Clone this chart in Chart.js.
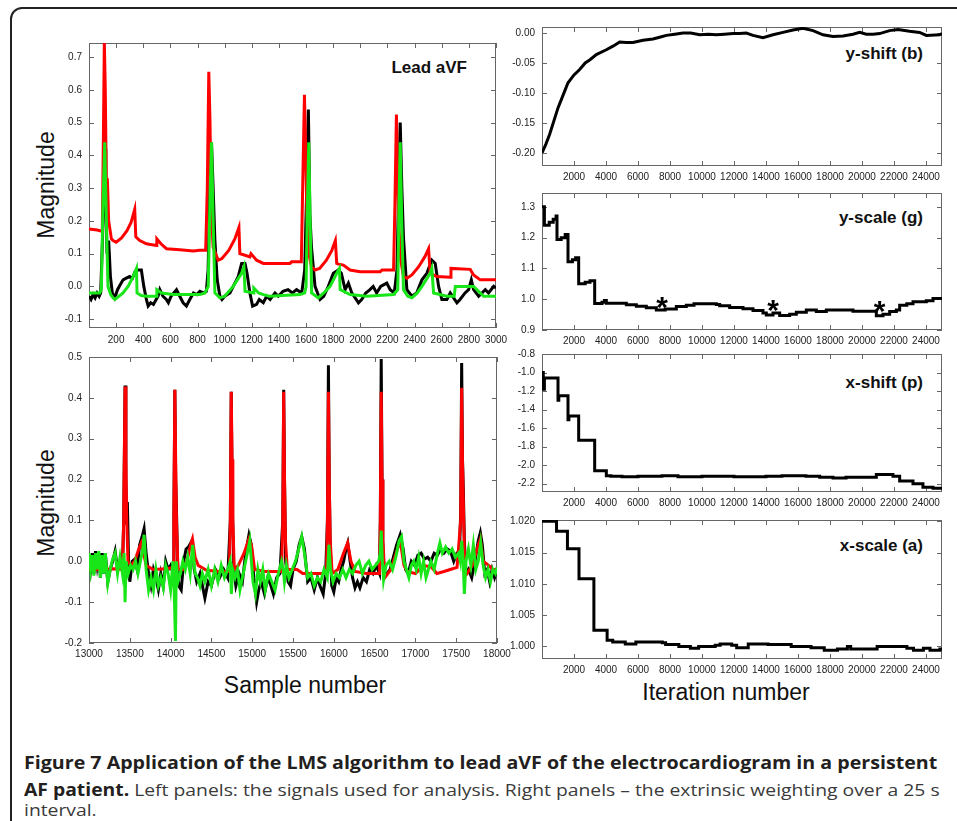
<!DOCTYPE html>
<html>
<head>
<meta charset="utf-8">
<script src="https://cdn.jsdelivr.net/npm/chart.js@4.4.0/dist/chart.umd.min.js"></script>
<style>
body{margin:0;background:#fff;font-family:"Liberation Sans",Arial,sans-serif;}
#page{position:relative;width:957px;height:821px;overflow:hidden;background:#fff;}
#box{position:absolute;left:10px;top:7px;width:1000px;height:900px;border:2px solid #222;border-radius:12px;}
.panel{position:absolute;}
.lbl{position:absolute;white-space:nowrap;line-height:1;color:#111;}
.tag{font-weight:bold;font-size:17px;transform:translate(-100%,-50%);}
.axt{font-size:23px;transform:translate(-50%,-50%);}
.rot{transform:translate(-50%,-50%) rotate(-90deg);}
.cap{position:absolute;left:24px;white-space:nowrap;font-family:"Open Sans",sans-serif;font-size:17px;line-height:17px;transform-origin:0 50%;color:#3a3a3a;}
.cap b{color:#231f20;}
</style>
</head>
<body>
<div id="page">
  <div id="box"></div>
  <div class="lbl tag" style="left:467px;top:67px">Lead aVF</div>
  <div class="lbl tag" style="left:923px;top:53px">y-shift (b)</div>
  <div class="lbl tag" style="left:923px;top:217px">y-scale (g)</div>
  <div class="lbl tag" style="left:923px;top:382px">x-shift (p)</div>
  <div class="lbl tag" style="left:923px;top:545px">x-scale (a)</div>
  <div class="lbl axt rot" style="left:46px;top:185px">Magnitude</div>
  <div class="lbl axt rot" style="left:46px;top:503px">Magnitude</div>
  <div class="lbl axt" style="left:305px;top:685px">Sample number</div>
  <div class="lbl axt" style="left:726px;top:692px">Iteration number</div>
  <div class="cap" id="cap1" style="top:754px"><b>Figure 7 Application of the LMS algorithm to lead aVF of the electrocardiogram in a persistent</b></div>
  <div class="cap" id="cap2" style="top:781px"><b>AF patient.</b> Left panels: the signals used for analysis. Right panels – the extrinsic weighting over a 25 s</div>
  <div class="cap" id="cap3" style="top:801px">interval.</div>
</div>
<script>
// ---- data ----
// lead aVF, samples 0-3000 (black = signal, red / green = the two fits)
let topBlack = [[0,-0.03],[15,-0.04],[30,-0.025],[45,-0.035],[60,-0.02],[75,-0.03],[86,-0.02],[100,0.15],[112,0.36],[118,0.42],[124,0.25],[133,0.1],[145,0.14],[158,0.03],[172,-0.02],[190,-0.035],[210,-0.01],[230,0.005],[251,0.02],[275,0.025],[300,0.03],[320,0.025],[340,0.045],[362,0.05],[386,0.05],[404,0.0],[423,-0.04],[436,-0.06],[455,-0.05],[475,-0.055],[495,-0.04],[509,-0.03],[522,-0.01],[545,-0.03],[570,-0.04],[585,-0.05],[605,-0.03],[625,-0.02],[645,-0.01],[669,-0.03],[694,-0.05],[718,-0.06],[743,-0.04],[770,-0.02],[795,-0.025],[817,-0.015],[845,-0.02],[865,-0.015],[878,0.05],[890,0.3],[903,0.44],[915,0.3],[928,0.14],[945,0.02],[965,-0.03],[980,-0.04],[1000,-0.03],[1039,-0.02],[1063,0.0],[1100,0.03],[1125,0.07],[1150,0.07],[1165,0.04],[1186,-0.02],[1206,-0.06],[1235,-0.055],[1255,-0.04],[1285,-0.05],[1309,-0.03],[1335,-0.04],[1371,-0.02],[1395,-0.03],[1430,-0.015],[1467,-0.01],[1500,-0.02],[1530,-0.01],[1568,-0.02],[1590,0.05],[1605,0.3],[1617,0.54],[1628,0.22],[1640,0.12],[1666,0.0],[1703,-0.04],[1730,-0.03],[1764,0.0],[1801,0.04],[1838,0.05],[1860,0.04],[1888,-0.01],[1912,0.01],[1937,-0.02],[1986,-0.05],[2010,-0.04],[2040,-0.02],[2071,-0.01],[2095,0.0],[2120,-0.02],[2150,0.0],[2195,0.01],[2220,-0.01],[2250,-0.02],[2270,0.05],[2283,0.3],[2294,0.5],[2306,0.3],[2318,0.15],[2343,-0.01],[2380,-0.03],[2415,-0.02],[2454,0.02],[2490,0.04],[2527,0.08],[2552,0.07],[2577,0.0],[2601,-0.04],[2638,-0.04],[2663,-0.02],[2712,-0.05],[2735,-0.04],[2772,-0.02],[2798,-0.01],[2818,0.02],[2835,-0.01],[2872,-0.03],[2921,-0.01],[2945,-0.02],[2983,0.0],[3000,-0.005]];
let topRed = [[0,0.175],[60,0.172],[98,0.168],[106,0.45],[113,0.745],[120,0.6],[128,0.3],[135,0.33],[145,0.2],[165,0.145],[177,0.14],[200,0.135],[240,0.148],[280,0.17],[310,0.195],[337,0.235],[345,0.151],[374,0.14],[423,0.13],[497,0.125],[500,0.145],[530,0.13],[571,0.115],[669,0.112],[768,0.108],[817,0.11],[860,0.11],[872,0.3],[883,0.655],[892,0.5],[900,0.25],[915,0.12],[952,0.08],[980,0.085],[1030,0.11],[1075,0.145],[1105,0.18],[1112,0.1],[1150,0.095],[1186,0.09],[1194,0.1],[1235,0.08],[1285,0.07],[1481,0.07],[1494,0.075],[1565,0.075],[1575,0.3],[1588,0.585],[1598,0.4],[1606,0.22],[1620,0.1],[1640,0.06],[1666,0.05],[1700,0.055],[1750,0.08],[1790,0.11],[1816,0.14],[1826,0.07],[1840,0.068],[1875,0.065],[1924,0.05],[1998,0.045],[2146,0.045],[2160,0.05],[2245,0.05],[2255,0.25],[2266,0.525],[2275,0.35],[2283,0.19],[2298,0.08],[2318,0.03],[2343,0.025],[2380,0.035],[2430,0.06],[2475,0.09],[2503,0.115],[2515,0.04],[2564,0.03],[2663,0.028],[2668,0.055],[2810,0.052],[2835,0.035],[2884,0.02],[3000,0.02]];
let topGreen = [[0,-0.02],[79,-0.02],[91,-0.01],[103,0.25],[116,0.44],[128,0.2],[140,0.0],[160,-0.025],[177,-0.035],[190,-0.04],[220,-0.03],[251,-0.02],[288,0.0],[325,0.03],[350,0.055],[354,-0.02],[385,-0.028],[423,-0.03],[497,-0.03],[500,-0.01],[534,-0.02],[620,-0.025],[817,-0.025],[854,-0.02],[879,0.0],[891,0.25],[903,0.44],[915,0.2],[928,-0.02],[965,-0.035],[1000,-0.03],[1063,0.0],[1125,0.04],[1142,0.06],[1150,-0.015],[1211,-0.02],[1215,-0.005],[1250,-0.02],[1285,-0.025],[1330,-0.03],[1555,-0.025],[1590,-0.02],[1600,0.0],[1610,0.25],[1620,0.44],[1630,0.2],[1641,-0.02],[1690,-0.035],[1730,-0.02],[1777,0.0],[1826,0.04],[1846,0.055],[1851,-0.01],[1924,-0.025],[2048,-0.03],[2245,-0.025],[2276,-0.01],[2285,0.25],[2294,0.44],[2305,0.2],[2318,-0.01],[2350,-0.03],[2380,-0.035],[2420,-0.02],[2454,0.0],[2515,0.04],[2527,0.055],[2540,-0.02],[2638,-0.03],[2692,-0.03],[2700,0.0],[2835,0.0],[2909,-0.03],[3000,-0.03]];

// lead aVF, samples 13000-18000
let lowBlack = [[13000,0.01],[13020,-0.02],[13040,0.02],[13060,-0.03],[13080,0.025],[13100,-0.01],[13120,0.02],[13140,-0.04],[13160,0.02],[13180,-0.03],[13200,0.02],[13230,-0.05],[13260,-0.02],[13290,0.0],[13320,0.025],[13350,-0.02],[13380,0.0],[13410,-0.02],[13425,0.1],[13442,0.43],[13452,0.2],[13462,0.09],[13470,0.145],[13485,0.0],[13500,-0.05],[13530,0.0],[13560,0.005],[13590,-0.02],[13620,0.04],[13650,0.06],[13675,0.08],[13700,0.02],[13730,-0.03],[13760,-0.06],[13790,-0.02],[13820,-0.04],[13850,-0.07],[13880,-0.03],[13910,-0.06],[13940,0.0],[13970,-0.02],[14000,-0.01],[14030,-0.03],[14040,0.1],[14052,0.42],[14062,0.2],[14070,0.145],[14085,0.0],[14100,-0.06],[14130,-0.07],[14160,0.0],[14190,0.03],[14220,0.035],[14260,0.05],[14290,-0.02],[14320,-0.05],[14360,-0.03],[14390,-0.06],[14420,-0.09],[14460,-0.05],[14500,-0.06],[14550,-0.02],[14600,-0.04],[14650,-0.02],[14700,-0.04],[14732,0.1],[14743,0.415],[14753,0.2],[14760,0.11],[14775,-0.02],[14800,-0.06],[14840,-0.03],[14880,-0.05],[14920,0.02],[14960,0.065],[14990,0.04],[15020,-0.04],[15054,-0.1],[15080,-0.07],[15110,-0.05],[15150,-0.08],[15190,-0.04],[15230,-0.06],[15260,-0.08],[15300,-0.04],[15340,-0.03],[15375,0.1],[15386,0.42],[15396,0.2],[15410,0.0],[15440,-0.05],[15470,-0.06],[15500,-0.02],[15540,0.0],[15575,0.04],[15607,0.06],[15640,0.03],[15680,-0.05],[15720,-0.04],[15760,-0.07],[15800,-0.04],[15830,-0.06],[15870,-0.08],[15900,-0.03],[15922,0.1],[15934,0.48],[15944,0.2],[15955,0.05],[15975,-0.06],[16000,-0.075],[16030,-0.04],[16060,-0.05],[16090,-0.02],[16120,0.0],[16150,0.03],[16171,0.045],[16200,0.0],[16230,-0.04],[16260,-0.065],[16290,-0.05],[16320,-0.065],[16360,-0.04],[16400,-0.05],[16440,-0.02],[16480,-0.03],[16520,-0.01],[16560,-0.03],[16570,0.1],[16581,0.495],[16591,0.2],[16600,0.05],[16620,-0.04],[16650,-0.03],[16690,-0.02],[16730,0.01],[16770,0.04],[16814,0.065],[16850,0.03],[16880,-0.02],[16910,-0.03],[16950,0.0],[16990,-0.01],[17030,0.015],[17070,0.02],[17110,0.005],[17150,0.01],[17190,0.0],[17230,0.02],[17270,0.015],[17310,0.03],[17350,0.02],[17390,0.03],[17430,0.025],[17470,0.0],[17510,0.02],[17540,0.02],[17555,0.12],[17567,0.485],[17577,0.25],[17588,0.17],[17600,0.05],[17620,-0.03],[17650,-0.02],[17690,-0.04],[17730,0.0],[17770,0.05],[17796,0.07],[17820,0.04],[17850,-0.03],[17880,-0.02],[17910,-0.05],[17940,-0.02],[17970,-0.04],[18000,-0.02]];
let lowRed = [[13000,-0.02],[13150,-0.02],[13300,-0.018],[13410,-0.02],[13425,0.1],[13442,0.428],[13452,0.25],[13462,0.1],[13478,0.0],[13510,-0.01],[13560,0.0],[13610,0.03],[13640,0.045],[13670,0.02],[13700,-0.01],[13786,-0.02],[13950,-0.018],[14030,-0.015],[14040,0.1],[14052,0.42],[14062,0.25],[14072,0.1],[14090,-0.02],[14150,-0.02],[14200,0.0],[14245,0.04],[14268,0.055],[14300,0.01],[14338,-0.01],[14440,-0.022],[14600,-0.025],[14720,-0.025],[14732,0.1],[14743,0.415],[14753,0.25],[14763,0.1],[14780,-0.02],[14830,-0.01],[14900,0.02],[14960,0.055],[14990,0.04],[15030,-0.02],[15150,-0.025],[15360,-0.025],[15375,0.1],[15386,0.415],[15396,0.2],[15408,0.05],[15430,-0.02],[15550,-0.02],[15620,-0.03],[15750,-0.03],[15910,-0.03],[15922,0.1],[15934,0.415],[15944,0.2],[15956,0.05],[15980,-0.03],[16050,-0.02],[16120,0.02],[16170,0.045],[16210,0.0],[16260,-0.025],[16400,-0.03],[16560,-0.03],[16570,0.1],[16581,0.415],[16591,0.2],[16602,0.05],[16625,-0.04],[16700,-0.02],[16780,0.03],[16814,0.05],[16860,-0.01],[16900,-0.025],[17000,-0.03],[17100,-0.01],[17200,-0.015],[17264,-0.03],[17350,-0.025],[17427,-0.02],[17510,-0.015],[17555,0.1],[17567,0.425],[17577,0.25],[17590,0.12],[17605,-0.02],[17632,-0.03],[17700,-0.01],[17770,0.04],[17796,0.055],[17830,0.0],[17898,-0.01],[17950,-0.02],[18000,-0.02]];
let lowGreen = [[13000,0.02],[13020,-0.02],[13040,0.015],[13060,-0.035],[13080,0.02],[13100,-0.02],[13120,0.025],[13140,-0.04],[13160,0.015],[13180,-0.03],[13200,0.02],[13230,-0.055],[13260,-0.02],[13290,0.005],[13320,0.02],[13350,-0.03],[13380,0.01],[13410,-0.03],[13430,0.02],[13442,-0.1],[13455,0.0],[13480,-0.03],[13510,-0.01],[13540,-0.02],[13570,0.0],[13600,-0.03],[13630,0.0],[13660,0.03],[13675,0.065],[13700,-0.02],[13730,-0.07],[13760,-0.04],[13790,-0.07],[13820,-0.02],[13850,-0.06],[13880,-0.04],[13910,-0.065],[13940,-0.01],[13970,-0.03],[14000,-0.07],[14030,0.0],[14045,-0.08],[14060,-0.195],[14070,0.0],[14090,-0.05],[14120,-0.03],[14150,0.0],[14180,-0.02],[14210,0.01],[14240,-0.03],[14270,0.04],[14300,-0.03],[14330,-0.04],[14360,-0.06],[14390,-0.03],[14420,-0.05],[14460,-0.02],[14500,-0.06],[14540,-0.02],[14580,-0.05],[14620,-0.01],[14660,-0.04],[14700,-0.02],[14730,0.0],[14745,-0.08],[14760,-0.02],[14790,-0.04],[14820,-0.02],[14850,-0.07],[14890,-0.03],[14930,0.01],[14970,0.05],[14990,0.0],[15010,-0.05],[15040,-0.08],[15070,-0.02],[15100,-0.05],[15130,-0.02],[15160,-0.07],[15200,-0.03],[15240,-0.05],[15280,-0.07],[15320,-0.03],[15360,0.0],[15380,-0.02],[15395,-0.05],[15420,-0.01],[15450,-0.04],[15490,-0.02],[15530,0.0],[15570,0.03],[15607,0.06],[15640,0.02],[15680,-0.04],[15720,-0.03],[15760,-0.06],[15800,-0.04],[15840,-0.05],[15880,-0.02],[15920,-0.04],[15940,0.04],[15960,-0.02],[15990,-0.05],[16030,-0.03],[16070,-0.04],[16110,-0.02],[16150,-0.04],[16190,-0.02],[16230,-0.03],[16270,-0.01],[16310,0.0],[16350,-0.03],[16390,-0.01],[16430,0.0],[16470,-0.02],[16510,-0.01],[16550,0.0],[16570,0.02],[16581,0.075],[16595,0.0],[16610,-0.045],[16640,-0.01],[16680,0.0],[16720,-0.02],[16760,0.01],[16800,0.05],[16830,0.06],[16860,0.0],[16890,-0.02],[16920,-0.04],[16950,-0.01],[16980,0.0],[17010,-0.02],[17040,0.01],[17070,-0.03],[17100,0.0],[17130,-0.04],[17160,-0.02],[17190,0.0],[17230,-0.02],[17270,0.02],[17300,0.045],[17330,0.02],[17370,0.035],[17410,0.02],[17450,0.03],[17490,0.01],[17530,0.02],[17550,0.0],[17567,0.05],[17585,0.0],[17600,-0.08],[17620,0.0],[17650,0.03],[17680,-0.01],[17710,0.04],[17740,-0.02],[17770,0.0],[17800,0.045],[17830,-0.01],[17860,-0.04],[17890,-0.02],[17920,-0.05],[17950,-0.02],[17980,-0.03],[18000,-0.015]];

// weights over iterations (right panels)
let yShiftB = [[0,-0.2],[250,-0.185],[479,-0.169],[1000,-0.125],[1300,-0.105],[1625,-0.083],[2000,-0.07],[2354,-0.061],[2700,-0.05],[2979,-0.045],[3396,-0.036],[4021,-0.028],[4437,-0.022],[4854,-0.015],[5270,-0.016],[5687,-0.016],[6312,-0.012],[6937,-0.01],[7350,-0.007],[7770,-0.004],[8300,-0.002],[8812,0.0],[9300,0.0],[9854,-0.003],[10400,-0.002],[10896,-0.003],[11400,-0.002],[11937,-0.001],[12350,-0.001],[12770,0.0],[13187,-0.004],[13812,-0.008],[14437,-0.003],[15062,0.001],[15687,0.005],[16312,0.008],[16937,0.004],[17562,-0.003],[18187,-0.006],[18812,-0.005],[19437,-0.002],[19854,0.001],[20270,-0.002],[20700,-0.002],[21100,-0.001],[21725,0.004],[22250,0.006],[22975,0.003],[23600,0.001],[24020,-0.004],[24850,-0.003],[25000,-0.001]];
let yScaleG = [[0,1.3],[150,1.24],[450,1.25],[700,1.26],[880,1.27],[937,1.194],[1200,1.2],[1450,1.21],[1625,1.122],[1900,1.128],[2100,1.135],[2292,1.05],[2700,1.055],[3000,1.06],[3292,0.986],[3750,0.99],[3900,0.996],[4021,0.987],[5270,0.982],[5895,0.977],[6520,0.972],[7145,0.965],[7700,0.968],[8395,0.976],[9020,0.98],[9500,0.985],[10896,0.983],[11104,0.979],[11729,0.973],[12562,0.969],[13187,0.963],[13812,0.955],[14020,0.949],[14437,0.955],[14854,0.947],[15479,0.951],[15895,0.958],[16520,0.965],[17145,0.96],[17770,0.965],[19437,0.961],[20895,0.946],[21312,0.951],[21729,0.96],[22145,0.965],[22354,0.98],[22800,0.985],[23187,0.992],[24020,0.995],[24437,1.002],[25000,1.003]];
let gStars = [[7500,0.997],[14437,0.987],[21100,0.983]];
let xShiftP = [[0,-1.0],[80,-1.18],[150,-1.06],[1000,-1.3],[1050,-1.25],[1625,-1.51],[1680,-1.47],[2292,-1.73],[3292,-2.06],[4021,-2.115],[4300,-2.12],[5000,-2.125],[6000,-2.12],[7500,-2.115],[8500,-2.125],[10000,-2.12],[12000,-2.125],[14000,-2.12],[15000,-2.115],[16500,-2.12],[17354,-2.13],[18187,-2.14],[19000,-2.13],[20895,-2.1],[21935,-2.12],[22354,-2.17],[23187,-2.2],[23810,-2.24],[24437,-2.25],[25000,-2.25]];
let xScaleA = [[0,1.02],[909,1.0184],[1590,1.0156],[2313,1.0108],[3243,1.0026],[4070,1.001],[4420,1.0007],[5205,1.0004],[5866,1.0007],[7519,1.0006],[7725,1.0003],[8552,1.0],[9275,0.9997],[9791,1.0],[10824,1.0002],[11134,1.0004],[11857,1.0002],[12167,0.9998],[12890,1.0004],[14129,1.0003],[15575,1.0],[16815,0.9998],[17641,0.9994],[18467,0.9996],[19087,1.0],[19293,0.9996],[20946,1.0],[22805,0.9997],[23218,0.9994],[23838,0.9997],[24251,0.9994],[24870,0.9996],[25000,0.9996]];

// tick labels
let topXTicks = [200,400,600,800,1000,1200,1400,1600,1800,2000,2200,2400,2600,2800,3000];
let topYTicks = [-0.1,0,0.1,0.2,0.3,0.4,0.5,0.6,0.7];
let lowXTicks = [13000,13500,14000,14500,15000,15500,16000,16500,17000,17500,18000];
let lowYTicks = [-0.2,-0.1,0,0.1,0.2,0.3,0.4,0.5];
let iterTicks = [2000,4000,6000,8000,10000,12000,14000,16000,18000,20000,22000,24000];
let bTicks = [-0.2,-0.15,-0.1,-0.05,0];
let gTicks = [0.9,1.0,1.1,1.2,1.3];
let pTicks = [-2.2,-2.0,-1.8,-1.6,-1.4,-1.2,-1.0,-0.8];
let aTicks = [1.0,1.005,1.01,1.015,1.02];

// ---- drawing ----
const YW = 60, XH = 26, PT = 8, PR = 20;
const tickFont = {family: '"Liberation Sans", Arial, sans-serif', size: 10};
let page = document.getElementById('page');

function pts(a) {
  return a.map(p => ({x: p[0], y: p[1]}));
}

function line(a, color, w, stepped) {
  return {data: pts(a), borderColor: color, borderWidth: w, pointRadius: 0, fill: false, tension: 0, stepped: !!stepped};
}

// box round the plot area with short ticks pointing inwards on all four sides
let frame = {
  id: 'frame',
  beforeDatasetsDraw(chart) {
    let ctx = chart.ctx, a = chart.chartArea, sx = chart.scales.x, sy = chart.scales.y;
    ctx.save();
    ctx.strokeStyle = '#666';
    ctx.lineWidth = 1;
    ctx.strokeRect(Math.round(a.left) + 0.5, Math.round(a.top) + 0.5, Math.round(a.width) - 1, Math.round(a.height) - 1);
    ctx.beginPath();
    sx.ticks.forEach(t => {
      let px = Math.round(sx.getPixelForValue(t.value)) + 0.5;
      ctx.moveTo(px, a.bottom); ctx.lineTo(px, a.bottom - 5);
      ctx.moveTo(px, a.top); ctx.lineTo(px, a.top + 5);
    });
    sy.ticks.forEach(t => {
      let py = Math.round(sy.getPixelForValue(t.value)) + 0.5;
      ctx.moveTo(a.left, py); ctx.lineTo(a.left + 5, py);
      ctx.moveTo(a.right, py); ctx.lineTo(a.right - 5, py);
    });
    ctx.stroke();
    ctx.restore();
  }
};

// asterisks in the y-scale panel
let stars = {
  id: 'stars',
  afterDatasetsDraw(chart) {
    let ctx = chart.ctx, sx = chart.scales.x, sy = chart.scales.y;
    ctx.save();
    ctx.fillStyle = '#000';
    ctx.font = 'bold 30px "Liberation Sans", Arial, sans-serif';
    ctx.textAlign = 'center';
    ctx.textBaseline = 'alphabetic';
    gStars.forEach(s => {
      ctx.fillText('*', sx.getPixelForValue(s[0]), sy.getPixelForValue(s[1]) + 17);
    });
    ctx.restore();
  }
};

function makeChart(area, sets, o) {
  let w = YW + area.r - area.l + PR, h = PT + area.b - area.t + XH;
  let div = document.createElement('div');
  div.className = 'panel';
  div.style.left = (area.l - YW) + 'px';
  div.style.top = (area.t - PT) + 'px';
  let cv = document.createElement('canvas');
  cv.width = w; cv.height = h;
  cv.style.width = w + 'px'; cv.style.height = h + 'px';
  div.appendChild(cv);
  page.appendChild(div);
  return new Chart(cv, {
    type: 'line',
    data: {datasets: sets},
    options: {
      responsive: false, animation: false, devicePixelRatio: 1,
      layout: {padding: {top: PT, right: PR, left: 0, bottom: 0}},
      plugins: {legend: {display: false}, tooltip: {enabled: false}},
      scales: {
        x: {
          type: 'linear', min: o.xMin, max: o.xMax,
          grid: {display: false, drawTicks: false}, border: {display: false},
          afterBuildTicks: s => { s.ticks = o.xTicks.map(v => ({value: v})); },
          afterFit: s => { s.height = XH; s.paddingLeft = 0; s.paddingRight = 0; },
          ticks: {autoSkip: false, maxRotation: 0, minRotation: 0, padding: o.xPad, color: '#222', font: tickFont,
                  callback: v => String(v)}
        },
        y: {
          type: 'linear', min: o.yMin, max: o.yMax,
          grid: {display: false, drawTicks: false}, border: {display: false},
          afterBuildTicks: s => { s.ticks = o.yTicks.map(v => ({value: v})); },
          afterFit: s => { s.width = YW; s.paddingTop = 0; s.paddingBottom = 0; },
          ticks: {autoSkip: false, padding: 7, color: '#222', font: tickFont,
                  callback: v => Number(v).toFixed(o.dec)}
        }
      }
    },
    plugins: o.stars ? [frame, stars] : [frame]
  });
}

const RED = '#ff0000', GREEN = '#19e619', BLACK = '#000000';

// chart.js paints the first dataset last, so green goes first to sit on top
makeChart({l: 89, t: 43, r: 496, b: 328},
  [line(topGreen, GREEN, 3), line(topRed, RED, 3), line(topBlack, BLACK, 3)],
  {xMin: 0, xMax: 3000, yMin: -0.127, yMax: 0.743, xTicks: topXTicks, yTicks: topYTicks, dec: 1, xPad: 6});

makeChart({l: 89, t: 357, r: 497, b: 643},
  [line(lowGreen, GREEN, 3), line(lowRed, RED, 3), line(lowBlack, BLACK, 3)],
  {xMin: 13000, xMax: 18000, yMin: -0.2, yMax: 0.5, xTicks: lowXTicks, yTicks: lowYTicks, dec: 1, xPad: 5});

makeChart({l: 542, t: 27, r: 942, b: 166},
  [line(yShiftB, BLACK, 3)],
  {xMin: 0, xMax: 25000, yMin: -0.222, yMax: 0.01, xTicks: iterTicks, yTicks: bTicks, dec: 2, xPad: 5});

makeChart({l: 542, t: 193, r: 942, b: 330},
  [line(yScaleG, BLACK, 3, true)],
  {xMin: 0, xMax: 25000, yMin: 0.9, yMax: 1.345, xTicks: iterTicks, yTicks: gTicks, dec: 1, xPad: 5, stars: true});

makeChart({l: 542, t: 354, r: 942, b: 492},
  [line(xShiftP, BLACK, 3, true)],
  {xMin: 0, xMax: 25000, yMin: -2.29, yMax: -0.8, xTicks: iterTicks, yTicks: pTicks, dec: 1, xPad: 5});

makeChart({l: 542, t: 520, r: 942, b: 659},
  [line(xScaleA, BLACK, 3, true)],
  {xMin: 0, xMax: 25000, yMin: 0.998, yMax: 1.0202, xTicks: iterTicks, yTicks: aTicks, dec: 3, xPad: 5});

// squeeze the caption lines to the width they have in the figure
function fit(id, target) {
  let el = document.getElementById(id);
  let k = target / el.offsetWidth;
  el.style.transform = 'scaleX(' + k + ')';
  return k;
}
fit('cap1', 913);
let k2 = fit('cap2', 916);
document.getElementById('cap3').style.transform = 'scaleX(' + k2 + ')';
</script>
</body>
</html>
